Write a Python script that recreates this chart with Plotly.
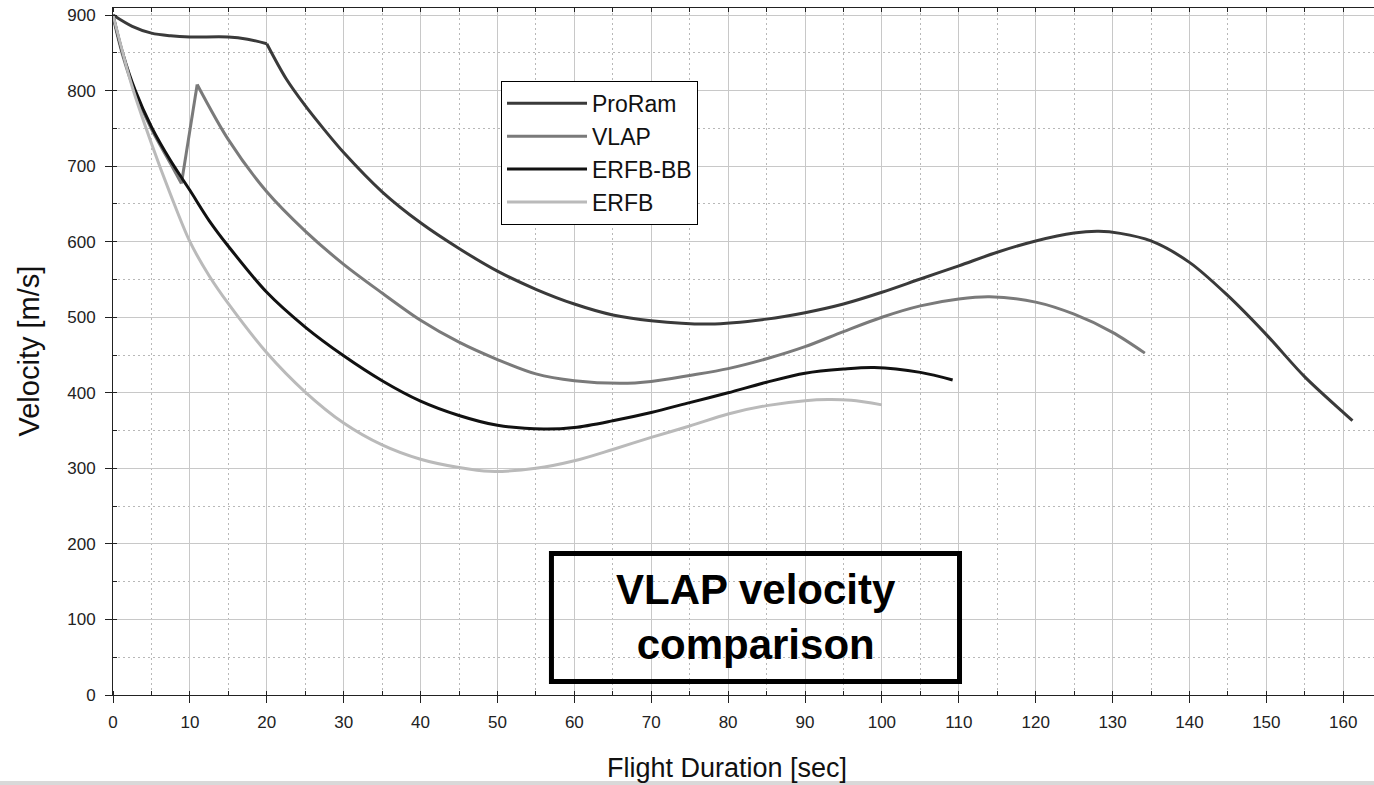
import plotly.graph_objects as go

# ---------------- data ----------------
proram_t = [0, 2.5, 5, 7.5, 10, 15, 17.5, 20, 22.5, 25, 27.5, 30, 35, 40, 45, 50, 55, 60, 65, 70,
            77.6, 85, 90, 95, 100, 105, 110, 115, 120, 125, 128.2, 131, 135, 140, 145, 150, 155, 160, 161.2]
proram_v = [900, 885, 876, 872.5, 871, 871, 868, 862, 816, 780, 748, 718, 666, 625, 591, 561, 537, 517.5, 503, 495.5,
            491, 497.5, 506, 517.5, 533, 550.6, 568, 586, 601, 611.5, 613.7, 611, 601, 572.6, 528.5, 477, 421, 374, 363]
proram_corners = [7]

vlap_t = [0, 1.25, 2.9, 5, 7.5, 8.9, 10.95, 15, 20, 25, 30, 35, 40, 45, 50, 55, 60, 66, 70, 75, 80, 85, 90,
          95, 100, 105, 110, 114, 120, 125, 130, 134.2]
vlap_v = [898, 847, 797, 749, 703, 677, 808, 735, 666, 614, 570, 532, 496, 467, 444, 425, 416, 412.5, 415, 423, 432, 445, 461,
          481, 500, 515, 524, 527, 520, 504, 480, 452.5]
vlap_corners = [5, 6]

erfbbb_t = [0, 1.25, 2.9, 5, 7.5, 10, 12.5, 15, 20, 25, 30, 35, 40, 45, 50, 56, 60, 65, 70, 75, 80, 85, 90,
            95, 99, 105, 109.2]
erfbbb_v = [900, 850, 800, 752, 707, 668, 628, 594, 533, 487, 449, 416, 389, 370, 357, 352, 354, 363, 374, 387, 400, 414, 426,
            431.5, 433.5, 427, 417]

erfb_t = [0, 2.5, 5, 7.5, 10, 12.5, 15, 20, 25, 30, 35, 40, 45, 49, 55, 60, 65, 70, 75, 80, 85, 90, 93, 96, 100]
erfb_v = [900, 805, 730, 662, 600, 555, 518, 453, 401, 360, 331, 312, 301, 296, 300, 310, 325, 341, 356, 372, 383, 389.5,
          391, 390, 384]

series_names = ["ProRam", "VLAP", "ERFB-BB", "ERFB"]
series_colors = ["#3a3a3a", "#7a7a7a", "#111111", "#bababa"]

x_ticks = list(range(0, 161, 10))
y_ticks = list(range(0, 901, 100))

FONT = "Liberation Sans, Arial, sans-serif"

fig = go.Figure()


def add_series(t, v, name, color, corners=()):
    cuts = [0] + list(corners) + [len(t) - 1]
    for k in range(len(cuts) - 1):
        a, b = cuts[k], cuts[k + 1]
        fig.add_trace(go.Scatter(
            x=t[a:b + 1], y=v[a:b + 1], mode="lines", name=name,
            legendgroup=name, showlegend=(k == 0),
            line=dict(color=color, width=3, shape="spline", smoothing=0.9),
            hoverinfo="x+y+name",
        ))


add_series(proram_t, proram_v, series_names[0], series_colors[0], proram_corners)
add_series(vlap_t, vlap_v, series_names[1], series_colors[1], vlap_corners)
add_series(erfbbb_t, erfbbb_v, series_names[2], series_colors[2])
add_series(erfb_t, erfb_v, series_names[3], series_colors[3])

XR = [0, 164]
YR = [0, 909.3]

fig.update_layout(
    width=1374, height=785,
    margin=dict(l=113, r=0, t=8, b=90),
    paper_bgcolor="white", plot_bgcolor="white",
    font=dict(family=FONT, color="#111"),
    showlegend=True,
    legend=dict(
        x=0.3077, y=0.894, xanchor="left", yanchor="top",
        bgcolor="white", bordercolor="black", borderwidth=1,
        font=dict(size=23, family=FONT, color="#111"),
        itemwidth=80, tracegroupgap=0,
    ),
    xaxis=dict(
        range=XR, tickvals=x_ticks, ticktext=[str(v) for v in x_ticks],
        showgrid=True, gridcolor="#c8c8c8", gridwidth=1.2,
        showline=True, linecolor="#222", linewidth=1, mirror=True,
        ticks="outside", ticklen=7, tickcolor="#222", tickwidth=1,
        tickfont=dict(size=17, family=FONT, color="#222"),
        ticklabelstandoff=5,
        zeroline=False,
        minor=dict(dtick=5, showgrid=True, gridcolor="#b8b8b8", griddash="2px,3px", gridwidth=1,
                   ticks="inside", ticklen=4, tickcolor="#222"),
    ),
    xaxis2=dict(
        range=XR, overlaying="x", side="top", anchor="y",
        showgrid=False, showline=False, showticklabels=False, ticks="", tickvals=x_ticks,
        zeroline=False,
        minor=dict(dtick=5, showgrid=False, ticks="inside", ticklen=4, tickcolor="#222"),
    ),
    yaxis=dict(
        range=YR, tickvals=y_ticks, ticktext=[str(v) for v in y_ticks],
        showgrid=True, gridcolor="#c8c8c8", gridwidth=1.2,
        showline=True, linecolor="#222", linewidth=1,
        ticks="outside", ticklen=7, tickcolor="#222", tickwidth=1,
        tickfont=dict(size=17, family=FONT, color="#222"),
        ticklabelstandoff=6,
        zeroline=False,
        minor=dict(dtick=50, showgrid=True, gridcolor="#b8b8b8", griddash="2px,3px", gridwidth=1,
                   ticks="inside", ticklen=4, tickcolor="#222"),
    ),
    annotations=[
        dict(text="Flight Duration [sec]", xref="paper", yref="paper", x=0.487, y=-0.1063,
             xanchor="center", yanchor="middle", showarrow=False,
             font=dict(size=27, family=FONT, color="#111")),
        dict(text="Velocity [m/s]", xref="paper", yref="paper", x=-0.0674, y=0.5,
             xanchor="center", yanchor="middle", showarrow=False, textangle=-90,
             font=dict(size=29, family=FONT, color="#111")),
        dict(text="<b>VLAP velocity<br>comparison</b>", xref="paper", yref="paper", x=0.5096, y=0.1135,
             xanchor="center", yanchor="middle", showarrow=False,
             font=dict(size=42, family=FONT, color="#000")),
    ],
    shapes=[
        dict(type="rect", xref="paper", yref="paper", x0=0.3477, x1=0.6713, y0=0.0197, y1=0.206,
             line=dict(color="black", width=5), fillcolor="rgba(0,0,0,0)", layer="above"),
        dict(type="rect", xref="paper", yref="paper", x0=-0.1, x1=1.0, y0=-0.14, y1=-0.1252,
             line=dict(width=0), fillcolor="#d9d9d9", layer="above"),
    ],
)

# invisible trace to anchor the top minor-tick axis
fig.add_trace(go.Scatter(x=[0], y=[0], xaxis="x2", mode="lines", showlegend=False, hoverinfo="skip",
                         line=dict(width=0)))

fig.write_html("out.html", config={"displayModeBar": False},
               post_script="document.body.style.margin='0';document.body.style.overflow='hidden';")
